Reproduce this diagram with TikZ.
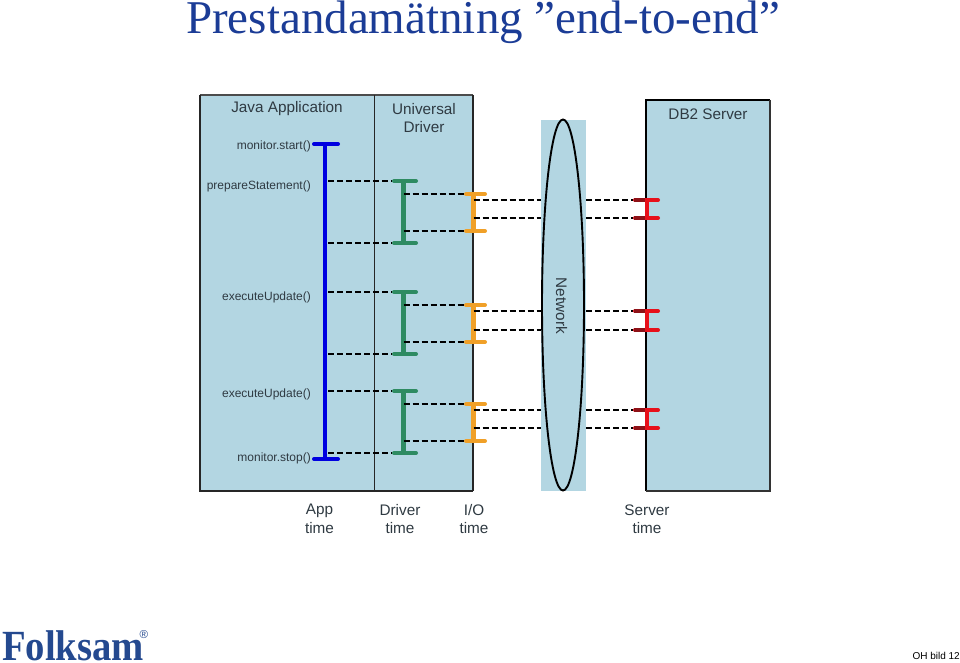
\documentclass[tikz,border=0pt]{standalone}
\usepackage{fontspec}
\usetikzlibrary{shapes.geometric}
\setmainfont{Liberation Serif}
\newfontfamily\arialf{Liberation Sans}
\definecolor{panel}{HTML}{B3D6E2}
\definecolor{titleblue}{HTML}{1B3C96}
\definecolor{logoblue}{HTML}{24498F}
\definecolor{labelgrey}{HTML}{2F3A42}
\definecolor{appblue}{HTML}{0000E0}
\definecolor{drvgreen}{HTML}{2E8B62}
\definecolor{ioorange}{HTML}{F0A028}
\definecolor{srvred}{HTML}{E8101A}
\definecolor{srvdark}{HTML}{8E1218}
\tikzset{
  x=1pt,y=-1pt,
  lbl/.style={font=\arialf\fontsize{15.3}{18.5}\selectfont,text=labelgrey,inner sep=0pt,align=center},
  methodlbl/.style={font=\arialf\fontsize{12}{14}\selectfont,text=labelgrey,inner sep=0pt,anchor=east},
  bar/.style={line width=4pt,line cap=round},
  stem/.style={line width=4.4pt},
  thin dash/.style={black,line width=1.9pt,dash pattern=on 6pt off 3pt},
  thick dash/.style={black,line width=2.9pt,dash pattern=on 6pt off 3pt},
}
\begin{document}
\begin{tikzpicture}
\useasboundingbox (0,0) rectangle (960,663);
\node[anchor=base west,inner sep=0pt,text=titleblue,font=\fontsize{47}{52}\selectfont] (title) at (186,34) {Prestandamätning ”end-to-end”};

% panels
\fill[panel] (200,95) rectangle (473,491);
\draw[black!70,line width=1.5pt] (200,95) -- (473,95);
\draw[black!85,line width=2pt] (200,95) -- (200,491) -- (473,491);
\draw[black!85,line width=1.1pt] (473,95) -- (473,491);
\draw[black!85,line width=1pt] (374,95) coordinate (divtop) -- (374,491) coordinate (divbot);
\fill[panel] (541,120) rectangle (586,491);
\node[draw=black,fill=panel,line width=1.9pt,ellipse,minimum width=42pt,minimum height=371pt,inner sep=0pt] (net) at (563,305) {};
\fill[panel] (646,100) rectangle (770,491);
\draw[black,line width=2pt] (646,491) -- (646,100) -- (770,100);
\draw[black!80,line width=1.8pt] (770,100) -- (770,491) -- (646,491);

% headers
\node[lbl] (java) at (287,109) {Java Application};
\node[lbl] (univ) at (424,118) {Universal\\Driver};
\node[lbl] (db2) at (708,114) {DB2 Server};
\node[lbl,rotate=-90] (nettext) at (561.5,306) {Network};

% method labels
\node[methodlbl] (m1) at (311,146.5) {monitor.start()};
\node[methodlbl] (m2) at (311,186.5) {prepareStatement()};
\node[methodlbl] (m3) at (311,297.5) {executeUpdate()};
\node[methodlbl] (m4) at (311,394.5) {executeUpdate()};
\node[methodlbl] (m5) at (311,458.5) {monitor.stop()};

% app bar
\coordinate (at) at (325,144);
\coordinate (ab) at (325,459);
\draw[appblue,stem] (at) -- (ab);
\draw[appblue,bar] (314,144) -- (338,144);
\draw[appblue,bar] (314,459) -- (338,459);

\foreach \n/\ga/\gb/\oa/\ob/\ra/\rb/\wa/\wb/\wc in {
  a/181/243/194/231/200/218/thick dash/thick dash/thin dash,
  b/292/354/305/342/311/330/thick dash/thick dash/thick dash,
  c/391/453/404/441/410/428/thick dash/thin dash/thick dash}{
  \coordinate (g\n t) at (403.5,\ga);
  \coordinate (g\n b) at (403.5,\gb);
  \coordinate (o\n t) at (473.5,\oa);
  \coordinate (o\n b) at (473.5,\ob);
  \coordinate (r\n t) at (647,\ra);
  \coordinate (r\n b) at (647,\rb);
  % driver
  \draw[drvgreen,stem] (g\n t) -- (g\n b);
  \draw[drvgreen,bar] (394,\ga) -- (416,\ga);
  \draw[drvgreen,bar] (394,\gb) -- (416,\gb);
  % io
  \draw[ioorange,stem] (o\n t) -- (o\n b);
  \draw[ioorange,bar] (466,\oa) -- (485,\oa);
  \draw[ioorange,bar] (466,\ob) -- (485,\ob);
  % server
  \draw[srvred,stem] (r\n t) -- (r\n b);
  \draw[srvred,bar] (635,\ra) -- (658,\ra);
  \draw[srvred,bar] (635,\rb) -- (658,\rb);
  \draw[srvdark,line width=4pt] (634,\ra) -- (645,\ra);
  \draw[srvdark,line width=4pt] (634,\rb) -- (645,\rb);
  % dashed connectors
  \draw[thin dash] (328,\ga) -- (392,\ga);
  \draw[thin dash] (328,\gb) -- (392,\gb);
  \draw[\wa] (g\n t |- o\n t) -- (464,\oa);
  \draw[\wb] (g\n b |- o\n b) -- (464,\ob);
  \draw[\wc] (o\n t |- r\n t) -- (541,\ra);
  \draw[thick dash] (o\n t |- r\n b) -- (541,\rb);
  \draw[\wc] (586,\ra) -- (633,\ra);
  \draw[thick dash] (586,\rb) -- (633,\rb);
}

% time labels
\node[lbl] (tapp) at (319.5,519) {App\\time};
\node[lbl] (tdrv) at (400,519) {Driver\\time};
\node[lbl] (tio) at (474,519) {I/O\\time};
\node[lbl] (tsrv) at (647,519) {Server\\time};

% footer
\node[anchor=base west,inner sep=0pt,text=logoblue,font=\bfseries\fontsize{43}{45}\selectfont] (logo) at (2,660) {\scalebox{.9}[1]{Folksam}};
\node[anchor=base west,inner sep=0pt,text=logoblue,font=\arialf\fontsize{11.5}{12}\selectfont] (reg) at (139.5,638) {®};
\node[anchor=base east,inner sep=0pt,font=\arialf\fontsize{10}{12}\selectfont] (oh) at (960,659) {OH bild 12};
\end{tikzpicture}
\end{document}
